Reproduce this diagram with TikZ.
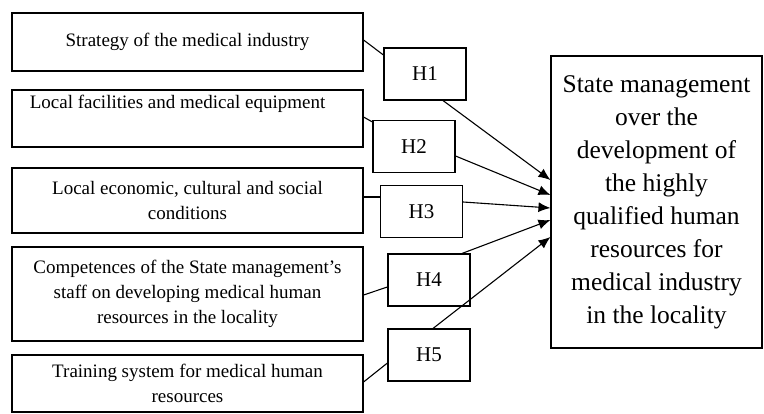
\documentclass[tikz,border=0pt]{standalone}
\usepackage{fontspec}
\setmainfont{Liberation Serif}
\usepackage{tikz}
\usetikzlibrary{calc}
\usetikzlibrary{arrows.meta}

\begin{document}
\begin{tikzpicture}[x=1pt,y=-1pt,line width=1.1pt,
        factor/.style={draw,minimum width=351pt,inner sep=0pt,align=center,
            font=\fontsize{19}{25}\selectfont},
        hyp/.style={draw,minimum width=82pt,minimum height=52pt,inner sep=0pt,
            font=\fontsize{21}{25}\selectfont},
        goal/.style={draw,minimum width=211pt,minimum height=292pt,inner sep=0pt,
            align=center,font=\fontsize{25.5}{33}\selectfont}]
            \useasboundingbox (0,0) rectangle (764,414);
            % factors on the left
            \node[factor,minimum height=58pt] (s1) at (187.5,42) {Strategy of the medical industry};
            \node[factor,minimum height=57pt] (s2) at (187.5,118.5) {Local facilities and medical equipment\hspace*{20pt}\\ \strut};
            \node[factor,minimum height=65pt] (s3) at (187.5,200.5) {Local economic, cultural and social\\conditions};
            \node[factor,minimum height=94pt] (s4) at (187.5,294) {Competences of the State management’s\\staff on developing medical human\\resources in the locality};
            \node[factor,minimum height=57pt] (s5) at (187.5,383.5) {Training system for medical human\\resources};
            % hypotheses
            \node[hyp] (h1) at (425,74) {H1};
            \node[hyp] (h2) at (414,146.5) {H2};
            \node[hyp] (h3) at (421.5,211.5) {H3};
            \node[hyp] (h4) at (429,280) {H4};
            \node[hyp] (h5) at (429,355) {H5};
            % dependent variable
            \node[goal] (goal) at (656.5,202) {State management\\over the\\development of\\the highly\\qualified human\\resources for\\medical industry\\in the locality};
            \foreach \i/\a/\b in {1/2/19,2/1.5/24.5,3/3.5/14.5,4/-1/-7,5/1.5/-8} {
                \draw ([yshift=\a pt]s\i.east) -- ([yshift=\b pt]h\i.west);
            }
            \foreach \i/\anc/\dx/\dy/\e in {1/south/18/0/22,2/east/0/-9.5/7,3/east/0/9.5/-6,4/north/33/0/-18,5/north/4/0/-35} {
                \draw[-{Latex[length=12pt,width=10pt]}] ([xshift=\dx pt,yshift=\dy pt]h\i.\anc) -- ([yshift=\e pt]goal.west);
            }
        \end{tikzpicture}
\end{document}
